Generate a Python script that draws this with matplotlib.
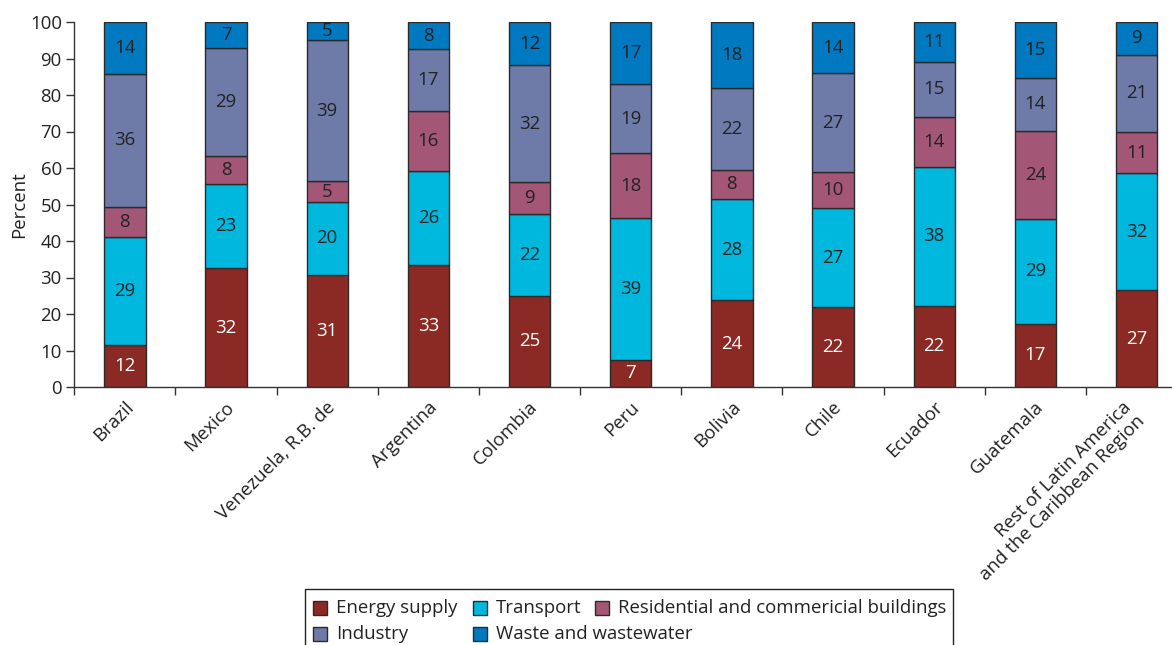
import matplotlib
matplotlib.use("Agg")
import matplotlib.pyplot as plt
import matplotlib.transforms as mtransforms
import numpy as np
from matplotlib.patches import Rectangle

plt.rcParams['font.family'] = ['Open Sans', 'DejaVu Sans']

countries = ["Brazil", "Mexico", "Venezuela, R.B. de", "Argentina", "Colombia", "Peru",
             "Bolivia", "Chile", "Ecuador", "Guatemala",
             "Rest of Latin America\nand the Caribbean Region"]

series_names = ["Energy supply", "Transport", "Residential and commericial buildings",
                "Industry", "Waste and wastewater"]

# segment heights (percent)
energy      = [11.5, 32.6, 30.7, 33.4, 25.0, 7.4, 23.8, 21.9, 22.3, 17.3, 26.5]
transport   = [29.6, 23.0, 20.0, 25.8, 22.3, 39.0, 27.7, 27.1, 38.1, 28.7, 32.0]
residential = [8.2, 7.7, 5.7, 16.4, 8.9, 17.6, 8.0, 9.9, 13.7, 24.2, 11.4]
industry    = [36.5, 29.6, 38.7, 17.0, 31.9, 19.1, 22.4, 27.1, 14.9, 14.5, 21.1]
waste       = [14.2, 7.1, 4.9, 7.4, 11.9, 16.9, 18.1, 14.0, 11.0, 15.3, 9.0]

# printed labels
energy_lbl      = [12, 32, 31, 33, 25, 7, 24, 22, 22, 17, 27]
transport_lbl   = [29, 23, 20, 26, 22, 39, 28, 27, 38, 29, 32]
residential_lbl = [8, 8, 5, 16, 9, 18, 8, 10, 14, 24, 11]
industry_lbl    = [36, 29, 39, 17, 32, 19, 22, 27, 15, 14, 21]
waste_lbl       = [14, 7, 5, 8, 12, 17, 18, 14, 11, 15, 9]

colors = ["#8B2A24", "#00B7DD", "#A35676", "#6E7BA8", "#0079C1"]
text_colors = ["white", "#222222", "#222222", "#222222", "#222222"]

FS = 13.4
W, H = 1172, 645
fig = plt.figure(figsize=(W / 100, H / 100), dpi=100)
ax = fig.add_axes([74.3 / W, 1 - 387 / H, (W - 74.3) / W, (387 - 22) / H])

x = np.arange(len(countries))
data = [energy, transport, residential, industry, waste]
labels = [energy_lbl, transport_lbl, residential_lbl, industry_lbl, waste_lbl]
bottom = np.zeros(len(countries))
bw = 0.408
for vals, lbls, c, tc in zip(data, labels, colors, text_colors):
    vals = np.array(vals)
    ax.bar(x, vals, bw, bottom=bottom, color=c, edgecolor="#2a2a2a", linewidth=1.0, zorder=2)
    for xi, b, v, l in zip(x, bottom, vals, lbls):
        ax.text(xi, b + v / 2, str(l), ha="center", va="center", color=tc, fontsize=FS, zorder=3)
    bottom += vals

ax.set_xlim(-0.5, 10.35)
ax.set_ylim(0, 100)
ax.set_yticks(np.arange(0, 101, 10))
ax.tick_params(axis="y", labelsize=FS, length=6, width=1, color="#333333", pad=3,
               labelcolor="#222222")
ax.set_xticks(np.arange(-0.5, 10.5, 1))
ax.set_xticklabels([])
ax.tick_params(axis="x", length=6, width=1, color="#333333")
for s in ["top", "right"]:
    ax.spines[s].set_visible(False)
for s in ["left", "bottom"]:
    ax.spines[s].set_color("#333333")
    ax.spines[s].set_linewidth(1)

ax.set_ylabel("Percent", fontsize=FS, color="#222222", labelpad=1)

# rotated category labels: top-right corner of the rotated bounding box below each bar
offset = mtransforms.ScaledTranslation(12 / 100, -11 / 100, fig.dpi_scale_trans)
trans = mtransforms.blended_transform_factory(ax.transData, ax.transAxes) + offset
for xi, name in zip(x, countries):
    ax.text(xi, 0, name, rotation=45, ha="right", va="top", rotation_mode="default",
            multialignment="right", fontsize=FS, color="#222222", transform=trans,
            linespacing=1.1)

# legend (drawn in figure pixel coordinates)
def px(xp, yp):
    return xp / W, 1 - yp / H

fig.patches.append(Rectangle(px(305, 652), 648 / W, 63 / H, transform=fig.transFigure,
                             facecolor="white", edgecolor="#222222", linewidth=1, zorder=5))
leg_items = [(0, 313, 608), (1, 473, 608), (2, 595, 608), (3, 313, 634), (4, 473, 634)]
for idx, hx, hy in leg_items:
    fig.patches.append(Rectangle(px(hx, hy + 7), 14 / W, 14 / H, transform=fig.transFigure,
                                 facecolor=colors[idx], edgecolor="#2a2a2a", linewidth=1,
                                 zorder=6))
    fx, fy = px(hx + 23, hy)
    fig.text(fx, fy, series_names[idx], ha="left", va="center", fontsize=FS,
             color="#222222", zorder=7)

fig.savefig("out.png", dpi=100)
